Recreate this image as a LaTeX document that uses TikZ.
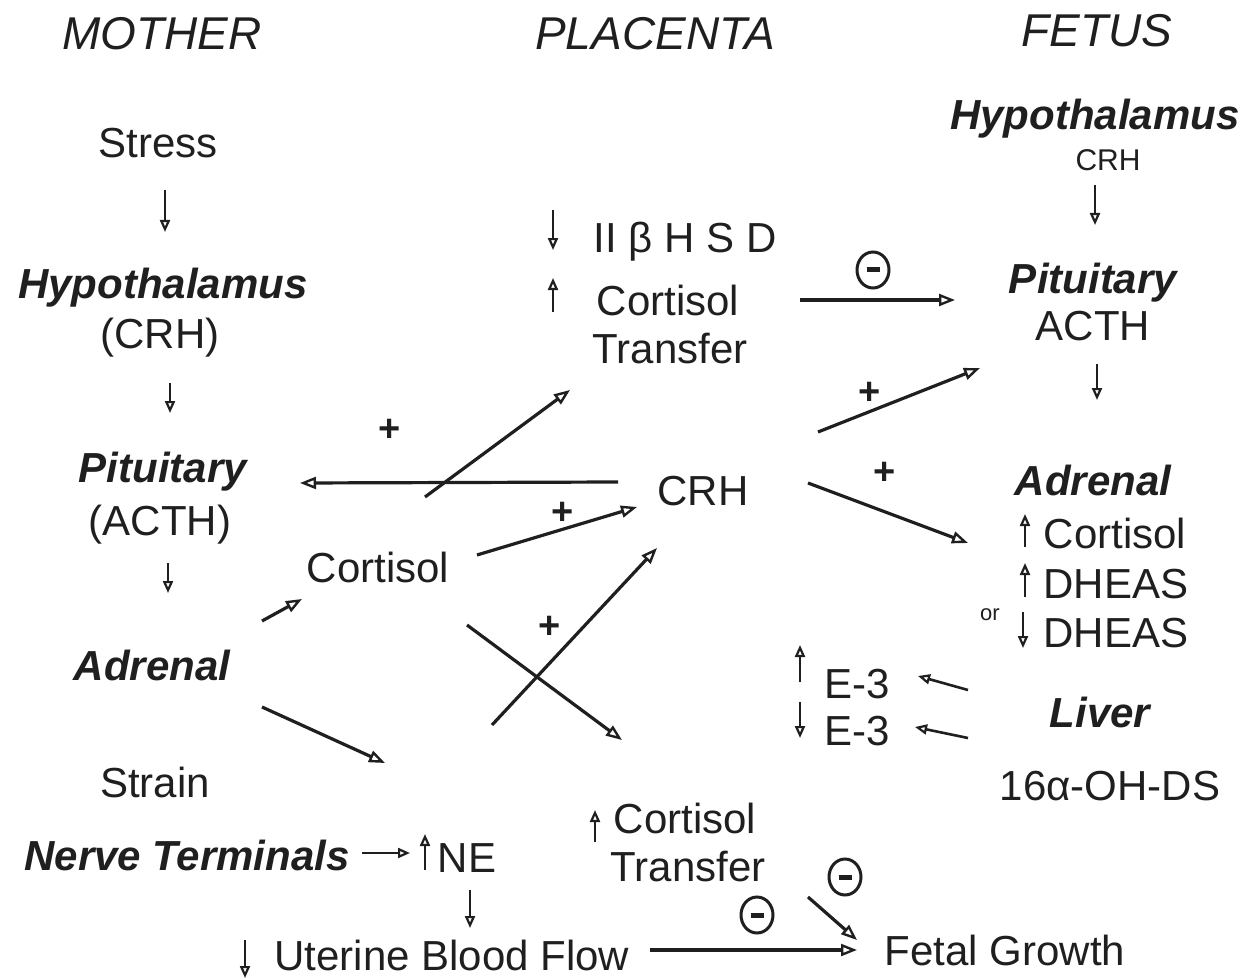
\documentclass[tikz,border=0pt]{standalone}
\usepackage{fontspec}
\setmainfont{Liberation Sans}
\usetikzlibrary{arrows.meta,shapes.geometric}
\tikzset{
  lbl/.style={inner sep=0pt, anchor=base, text=black!88, font=\fontsize{42}{50}\selectfont},
  org/.style={inner sep=0pt, anchor=base, text=black!88, font=\fontsize{42}{50}\selectfont\bfseries\itshape},
  hdr/.style={inner sep=0pt, anchor=base, text=black!88, font=\fontsize{46}{54}\selectfont\itshape},
  smalllbl/.style={inner sep=0pt, anchor=base, text=black!88, font=\fontsize{30}{34}\selectfont},
  tinylbl/.style={inner sep=0pt, anchor=base, text=black!88, font=\fontsize{22}{24}\selectfont},
  arr/.style={draw=black!88, line width=3.2pt, -{Triangle[open, length=16pt, width=12pt, line width=2.4pt]}},
  sarr/.style={draw=black!88, line width=2.6pt, -{Triangle[open, length=12pt, width=10pt, line width=2.2pt]}},
  plusl/.style={inner sep=0pt, text=black!88, font=\fontsize{38}{40}\selectfont\bfseries},
  negc/.style={draw=black!88, line width=3pt, ellipse, minimum width=32pt, minimum height=36pt, inner sep=0pt},
}
\newcommand{\negbar}{\textcolor{black!88}{\rule[-2.4pt]{13pt}{5pt}}}
\begin{document}
\begin{tikzpicture}[x=1pt,y=-1pt]
\useasboundingbox (0,0) rectangle (1254,979);
% headers
\node[hdr] (hM) at (162,50) {MOTHER};
\node[hdr] (hP) at (655,50) {PLACENTA};
\node[hdr] (hF) at (1097,47) {FETUS};
% mother column
\node[lbl] (stress) at (158,158) {Stress};
\node[org] (mhyp) at (163,298) {Hypothalamus};
\node[lbl] (mcrh) at (160,348) {(CRH)};
\node[org] (mpit) at (163,482) {Pituitary};
\node[lbl] (macth) at (160,535) {(ACTH)};
\node[org] (madr) at (152,680) {Adrenal};
\node[lbl] (strain) at (155,797) {Strain};
\node[org] (nerve) at (187,870) {Nerve Terminals};
\node[lbl] (ne) at (467,872) {NE};
\node[lbl] (ubf) at (452,970) {Uterine Blood Flow};
\node[lbl] (mcort) at (378,582) {Cortisol};
% placenta column
\node[lbl] (hsd) at (685,252) {II β H S D};
\node[lbl] (pcort) at (668,315) {Cortisol};
\node[lbl] (ptrans) at (670,363) {Transfer};
\node[lbl] (pcrh) at (703,505) {CRH};
\node[lbl] (lcort) at (685,833) {Cortisol};
\node[lbl] (ltrans) at (688,881) {Transfer};
\node[lbl] (growth) at (1005,965) {Fetal Growth};
% fetus column
\node[org] (fhyp) at (1095,130) {Hypothalamus};
\node[smalllbl] (fcrh) at (1108,171) {CRH};
\node[org] (fpit) at (1093,293) {Pituitary};
\node[lbl] (facth) at (1093,340) {ACTH};
\node[org] (fadr) at (1093,495) {Adrenal};
\node[lbl] (fcort) at (1115,548) {Cortisol};
\node[lbl] (dheas1) at (1116,598) {DHEAS};
\node[lbl] (dheas2) at (1116,647) {DHEAS};
\node[tinylbl] (or) at (990,620) {or};
\node[lbl] (e3a) at (857,698) {E-3};
\node[lbl] (e3b) at (857,745) {E-3};
\node[org] (liver) at (1100,727) {Liver};
\node[lbl] (ohds) at (1110,800) {16α-OH-DS};
% signs
\node[plusl] (p1) at (390,430) {+};
\node[plusl] (p2) at (870,393) {+};
\node[plusl] (p3) at (885,473) {+};
\node[plusl] (p4) at (563,513) {+};
\node[plusl] (p5) at (550,627) {+};
\node[negc] (n1) at (873,270) {\negbar};
\node[negc] (n2) at (845,877) {\negbar};
\node[negc] (n3) at (757,915) {\negbar};
% connector end points
\coordinate (a1s) at (800,300);  \coordinate (a1e) at (955,300);
\coordinate (a2s) at (818,432);  \coordinate (a2e) at (980,368);
\coordinate (a3s) at (808,483);  \coordinate (a3e) at (968,543);
\coordinate (a4s) at (618,482);  \coordinate (a4e) at (300,483);
\coordinate (a5s) at (425,497);  \coordinate (a5e) at (570,390);
\coordinate (a6s) at (477,555);  \coordinate (a6e) at (637,507);
\coordinate (a7s) at (262,621);  \coordinate (a7e) at (302,599);
\coordinate (a8s) at (262,707);  \coordinate (a8e) at (385,763);
\coordinate (a9s) at (492,725);  \coordinate (a9e) at (657,548);
\coordinate (a10s) at (467,625); \coordinate (a10e) at (622,740);
\coordinate (a11s) at (808,897); \coordinate (a11e) at (857,940);
\coordinate (a12s) at (650,950); \coordinate (a12e) at (857,950);
\coordinate (a13s) at (362,853); \coordinate (a13e) at (410,853);
\coordinate (a14s) at (968,690); \coordinate (a14e) at (918,676);
\coordinate (a15s) at (968,738); \coordinate (a15e) at (915,727);
\draw[arr] (a1s) -- (a1e);
\draw[arr] (a2s) -- (a2e);
\draw[arr] (a3s) -- (a3e);
\draw[arr] (a4s) -- (a4e);
\draw[arr] (a5s) -- (a5e);
\draw[arr] (a6s) -- (a6e);
\draw[arr] (a7s) -- (a7e);
\draw[arr] (a8s) -- (a8e);
\draw[arr] (a9s) -- (a9e);
\draw[arr] (a10s) -- (a10e);
\draw[arr] (a11s) -- (a11e);
\draw[arr] (a12s) -- (a12e);
\draw[sarr] (a13s) -- (a13e);
\draw[sarr] (a14s) -- (a14e);
\draw[sarr] (a15s) -- (a15e);
% small vertical arrows
\coordinate (v1s) at (165,190);  \coordinate (v1e) at (165,232);
\coordinate (v2s) at (170,383);  \coordinate (v2e) at (170,413);
\coordinate (v3s) at (168,563);  \coordinate (v3e) at (168,593);
\coordinate (v4s) at (553,210);  \coordinate (v4e) at (553,250);
\coordinate (v5s) at (553,312);  \coordinate (v5e) at (553,278);
\coordinate (v6s) at (595,842);  \coordinate (v6e) at (595,810);
\coordinate (v7s) at (425,870);  \coordinate (v7e) at (425,834);
\coordinate (v8s) at (470,890);  \coordinate (v8e) at (470,928);
\coordinate (v9s) at (245,940);  \coordinate (v9e) at (245,978);
\coordinate (v10s) at (1095,185); \coordinate (v10e) at (1095,225);
\coordinate (v11s) at (1097,364); \coordinate (v11e) at (1097,400);
\coordinate (v12s) at (1025,547); \coordinate (v12e) at (1025,514);
\coordinate (v13s) at (1025,597); \coordinate (v13e) at (1025,563);
\coordinate (v14s) at (1023,612); \coordinate (v14e) at (1023,648);
\coordinate (v15s) at (800,682);  \coordinate (v15e) at (800,645);
\coordinate (v16s) at (800,702);  \coordinate (v16e) at (800,738);
\foreach \i in {1,...,16} \draw[sarr] (v\i s) -- (v\i e);
\end{tikzpicture}
\end{document}
